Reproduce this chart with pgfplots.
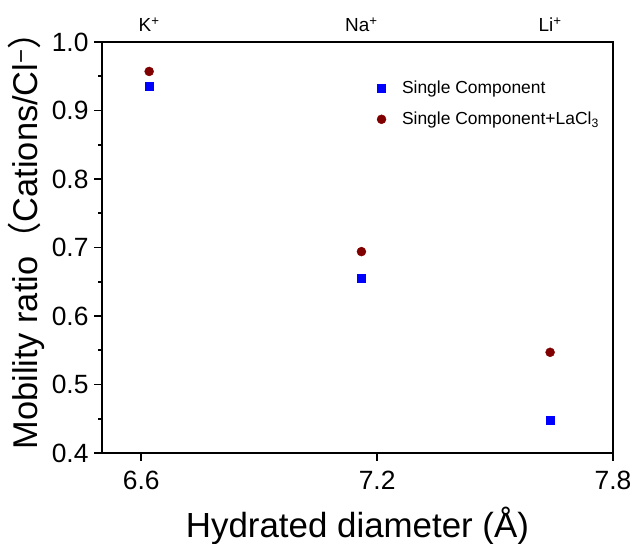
\documentclass[border=0pt]{standalone}
\usepackage{fontspec}
\setmainfont{Liberation Sans}
\newfontfamily\cjk{Noto Sans CJK SC}
\usepackage{pgfplots}
\pgfplotsset{compat=1.18}
\definecolor{myblue}{RGB}{0,0,255}
\definecolor{myred}{RGB}{128,0,0}
\begin{document}
\begin{tikzpicture}[x=1bp,y=1bp]
\useasboundingbox (0,0) rectangle (635,544);
\begin{axis}[
  at={(102bp,91bp)}, anchor=south west,
  scale only axis, width=511bp, height=411bp,
  xmin=6.5, xmax=7.8, ymin=0.4, ymax=1.0,
  axis line style={line width=2.5pt},
  axis x line*=bottom, axis y line*=left,
  xtick={6.6,7.2,7.8},
  ytick={0.4,0.5,0.6,0.7,0.8,0.9,1.0},
  minor ytick={0.45,0.55,0.65,0.75,0.85,0.95},
  tick align=outside,
  major tick length=8bp, minor tick length=4bp,
  every tick/.style={black, line width=1.8pt},
  /pgf/number format/assume math mode=true,
  xticklabel style={font=\fontsize{26.5}{30}\selectfont, yshift=-7bp, /pgf/number format/fixed, /pgf/number format/precision=1, /pgf/number format/fixed zerofill},
  yticklabel style={font=\fontsize{26.5}{30}\selectfont, xshift=-2bp, /pgf/number format/fixed, /pgf/number format/precision=1, /pgf/number format/fixed zerofill},
  xlabel={Hydrated diameter (Å)},
  ylabel={Mobility ratio{\cjk （}Cations/Cl\textsuperscript{−}{\cjk ）}},
  xlabel style={font=\fontsize{35}{38}\selectfont, at={(axis description cs:0.5,0)}, anchor=base, yshift=-85bp},
  ylabel style={font=\fontsize{34.5}{38}\selectfont, at={(axis description cs:0,0)}, anchor=base west, yshift=64bp},
  clip=false,
  legend style={draw=none, fill=none, at={(axis description cs:0.532,0.915)}, anchor=north west,
    font=\fontsize{17.5}{20}\selectfont, row sep=13bp, column sep=14bp},
  legend cell align=left,
]
\addplot[only marks, mark=square*, mark size=4bp, color=myblue] coordinates {
  (6.62,0.935) (7.16,0.655) (7.64,0.448)
};
\addlegendentry{Single Component}
\addplot[only marks, mark=*, mark size=4.5bp, color=myred] coordinates {
  (6.62,0.957) (7.16,0.694) (7.64,0.547)
};
\addlegendentry{Single Component+LaCl\textsubscript{3}}
\draw[line width=2.5pt] (rel axis cs:0,1) -- (rel axis cs:1,1) -- (rel axis cs:1,0);
\node[anchor=base, font=\fontsize{19}{21}\selectfont] at ([yshift=10bp]axis cs:6.62,1.0) {K\textsuperscript{+}};
\node[anchor=base, font=\fontsize{19}{21}\selectfont] at ([yshift=10bp]axis cs:7.16,1.0) {Na\textsuperscript{+}};
\node[anchor=base, font=\fontsize{19}{21}\selectfont] at ([yshift=10bp]axis cs:7.64,1.0) {Li\textsuperscript{+}};
\end{axis}
\end{tikzpicture}
\end{document}
